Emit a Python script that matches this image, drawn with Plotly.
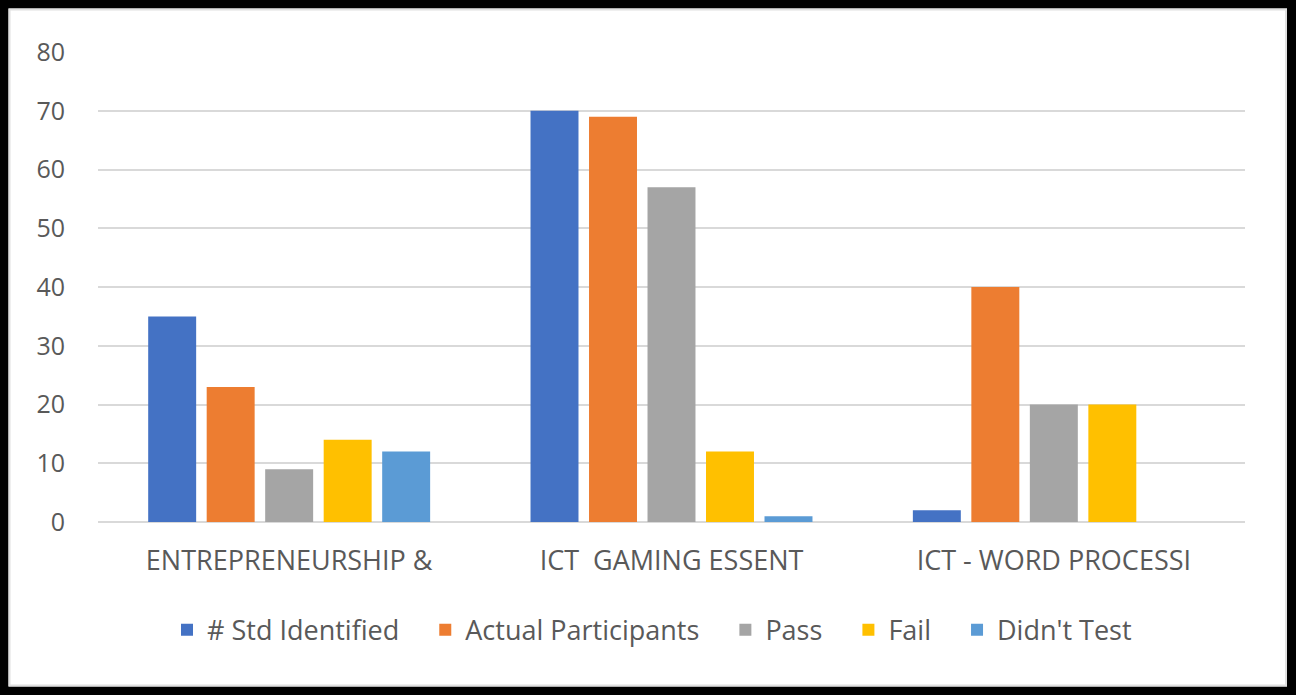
import plotly.graph_objects as go

# ---------------------------------------------------
# Data
# ---------------------------------------------------

CATEGORIES = [
    "ENTREPRENEURSHIP &",
    "ICT \u00a0GAMING ESSENT",
    "ICT - WORD PROCESSI",
]

STD_IDENTIFIED = [35, 70, 2]
ACTUAL_PARTICIPANTS = [23, 69, 40]
PASS = [9, 57, 20]
FAIL = [14, 12, 20]
DIDNT_TEST = [12, 1, 0]

SERIES = [
    ("# Std Identified", STD_IDENTIFIED, "#4472C4"),
    ("Actual Participants", ACTUAL_PARTICIPANTS, "#ED7D31"),
    ("Pass", PASS, "#A5A5A5"),
    ("Fail", FAIL, "#FFC000"),
    ("Didn't Test", DIDNT_TEST, "#5B9BD5"),
]

Y_TICKS = [0, 10, 20, 30, 40, 50, 60, 70, 80]

# ---------------------------------------------------
# Figure
# ---------------------------------------------------

W, H = 1296, 695
M_L, M_R, M_T, M_B = 98, 51, 52, 173
TEXT = "#595959"
GRID = "#D9D9D9"
PAD = "\u00a0" * 3  # extra room between legend entries

fig = go.Figure()
for i, (name, values, color) in enumerate(SERIES):
    label = name if i == len(SERIES) - 1 else name + PAD
    fig.add_trace(
        go.Bar(
            name=label,
            x=CATEGORIES,
            y=values,
            marker={"color": color, "line": {"width": 0}},
        )
    )

fig.update_layout(
    width=W,
    height=H,
    barmode="group",
    bargap=0.235,
    bargroupgap=0.18,
    paper_bgcolor="white",
    plot_bgcolor="white",
    font={"family": "Open Sans", "color": TEXT, "size": 27},
    margin={"l": M_L, "r": M_R, "t": M_T, "b": M_B},
    showlegend=True,
    legend={
        "orientation": "h",
        "x": 0.483,
        "xanchor": "center",
        "y": -0.23,
        "yanchor": "middle",
        "font": {"size": 27, "color": TEXT},
        "itemwidth": 30,
        "traceorder": "normal",
    },
)

fig.update_yaxes(
    range=[0, 80],
    tickvals=Y_TICKS,
    showgrid=True,
    gridcolor=GRID,
    gridwidth=2,
    zeroline=True,
    zerolinecolor=GRID,
    zerolinewidth=2,
    showline=False,
    ticks="",
    ticklabelstandoff=32,
    tickfont={"size": 25, "color": TEXT},
)
fig.update_xaxes(
    showgrid=False,
    showline=False,
    ticks="",
    ticklabelstandoff=20,
    tickfont={"size": 27, "color": TEXT},
)

# thick black frame around the whole picture
pw = W - M_L - M_R
ph = H - M_T - M_B


def px_x(p):
    return (p - M_L) / pw


def px_y(p):
    return (H - M_B - p) / ph


fig.add_shape(
    type="rect",
    xref="paper",
    yref="paper",
    x0=px_x(4),
    x1=px_x(W - 4.5),
    y0=px_y(H - 4),
    y1=px_y(4),
    line={"color": "black", "width": 9},
    fillcolor="rgba(0,0,0,0)",
    layer="above",
)
fig.add_shape(
    type="rect",
    xref="paper",
    yref="paper",
    x0=px_x(9.5),
    x1=px_x(W - 10),
    y0=px_y(H - 9.5),
    y1=px_y(9.5),
    line={"color": "#E0E0E0", "width": 2},
    fillcolor="rgba(0,0,0,0)",
    layer="above",
)

# drop the browser's default page margin so the frame sits at the page edge
fig.write_html(
    "out.html",
    config={"displayModeBar": False},
    post_script="document.body.style.margin='0px';document.body.style.overflow='hidden';",
)
